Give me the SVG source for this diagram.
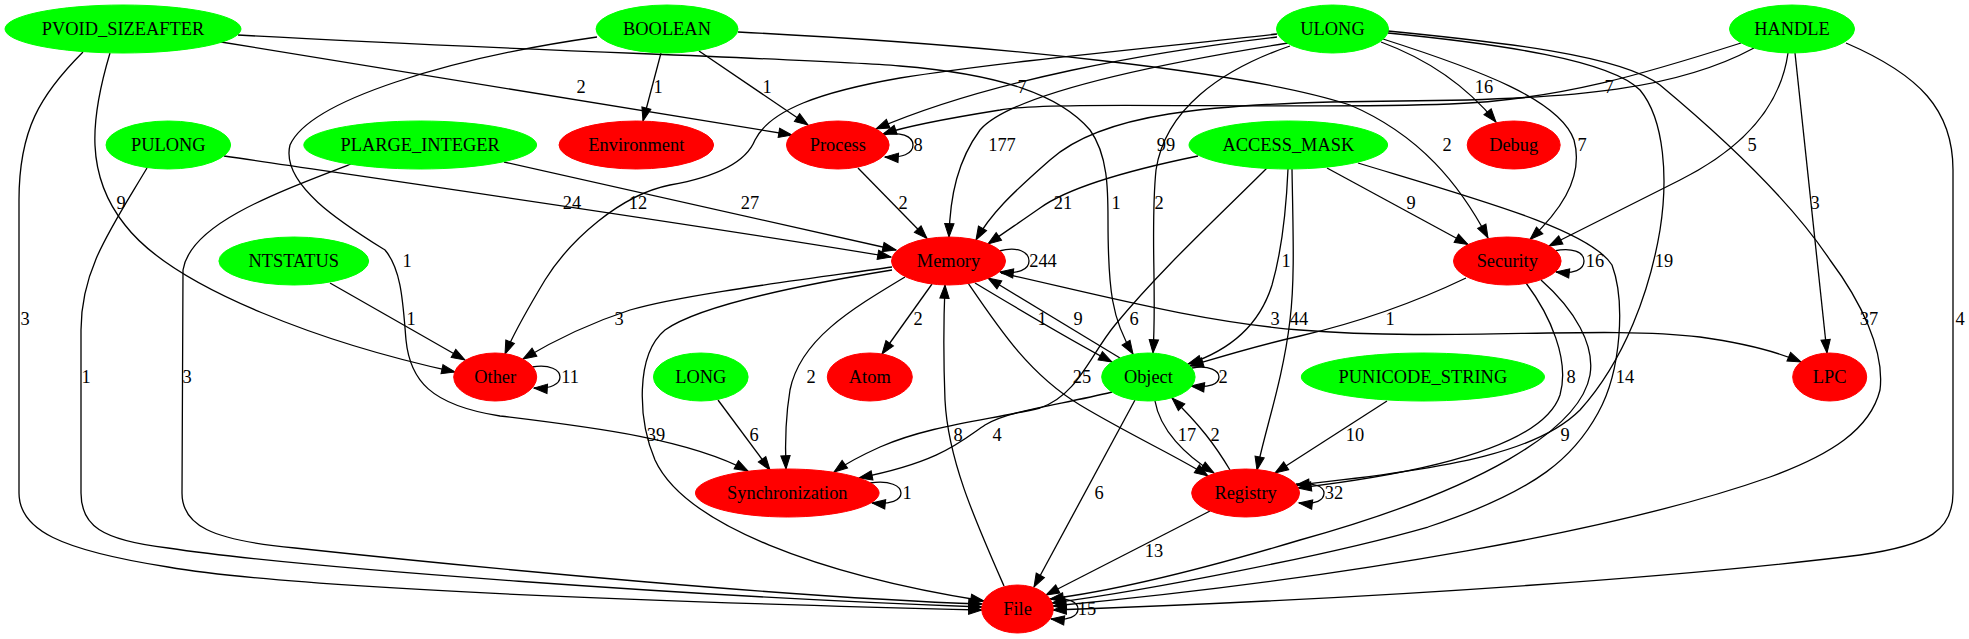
<svg xmlns="http://www.w3.org/2000/svg" width="1969" height="639" viewBox="0 0 1969 639">
<defs>
<style>
.e{fill:none;stroke:#000;stroke-width:1.3;marker-end:url(#arr)}
.t{font-family:"Liberation Serif","Times New Roman",serif;font-size:18.4px;text-anchor:middle;fill:#000}
.g{fill:#00ff00;stroke:#00ff00}
.r{fill:#ff0000;stroke:#ff0000}
marker{overflow:visible}
</style>
<marker id="arr" viewBox="0 0 14 10" refX="13.3" refY="4.67" markerWidth="14" markerHeight="10" markerUnits="userSpaceOnUse" orient="auto"><path d="M0,0 L13.3,4.67 L0,9.33 z" fill="#000" stroke="#000" stroke-width="1"/></marker>
</defs>
<rect width="1969" height="639" fill="#fff"/>
<g id="connectors">
<path class="e" d="M221,42 L792,135"/><text class="t" x="581" y="93">2</text>
<path class="e" d="M238,35 C500,50 800,58 900,66 C1000,74 1060,95 1090,130 C1108,155 1108,190 1108,220 C1108,290 1112,320 1133,354"/><text class="t" x="1116" y="209">1</text>
<path class="e" d="M110,53 C90,120 85,175 125,225 C175,290 330,345 455,372"/><text class="t" x="121" y="209">9</text>
<path class="e" d="M83,52 C40,95 19,130 19,200 L19,493 C19,530 60,550 168,567 C300,590 700,603 982,610"/><text class="t" x="25" y="325">3</text>
<path class="e" d="M147,168 C110,230 81,270 81,330 L81,493 C81,525 100,540 168,548 C300,568 700,597 982,607"/><text class="t" x="86" y="383">1</text>
<path class="e" d="M351,164 C270,195 190,225 183,270 L182,493 C182,525 210,540 295,548 C500,570 800,598 982,604"/><text class="t" x="187" y="383">3</text>
<path class="e" d="M224,156 C400,182 700,225 891,257"/><text class="t" x="572" y="209">24</text>
<path class="e" d="M504,162 L896,250"/><text class="t" x="750" y="209">27</text>
<path class="e" d="M330,283 L465,360"/><text class="t" x="411" y="325">1</text>
<path class="e" d="M661,53 L643,121"/><text class="t" x="658" y="93">1</text>
<path class="e" d="M699,51 L808,125"/><text class="t" x="767" y="93">1</text>
<path class="e" d="M597,37 C450,58 310,100 290,145 C280,185 345,225 385,250 C402,270 403,305 406,340 C410,380 430,405 500,416 C600,428 690,440 748,471"/><text class="t" x="407" y="267">1</text>
<path class="e" d="M999,251 C1018,246 1029,252 1029,261 C1029,270 1018,274 1000,272"/><text class="t" x="1043" y="267">244</text>
<path class="e" d="M883,135 C900,131 913,136 913,145 C913,154 902,158 885,157"/><text class="t" x="918" y="151">8</text>
<path class="e" d="M858,168 L927,238.5"/><text class="t" x="903" y="209">2</text>
<path class="e" d="M1277,37 C1150,52 990,80 876,129"/><text class="t" x="1022" y="93">7</text>
<path class="e" d="M1288,43 C1150,65 1010,95 980,130 C958,160 950,195 949,237"/><text class="t" x="1002" y="151">177</text>
<path class="e" d="M1277,34 C1150,48 1000,62 900,78 C820,92 770,110 755,140 C745,165 710,178 670,185 C620,195 570,240 545,280 C530,305 515,330 505,354"/><text class="t" x="638" y="209">12</text>
<path class="e" d="M1741,43 C1650,72 1560,100 1450,104 C1300,110 1050,100 1000,110 C950,118 910,125 883,134"/><text class="t" x="1609" y="93">7</text>
<path class="e" d="M1754,48 C1680,88 1580,100 1400,101 C1200,102 1100,115 1050,160 C1010,195 990,215 976,240"/><text class="t" x="1166" y="151">99</text>
<path class="e" d="M1198,156 C1120,172 1065,190 1040,208 C1020,222 1005,232 988,244"/><text class="t" x="1063" y="209">21</text>
<path class="e" d="M1290,46 C1220,70 1165,110 1156,170 C1150,230 1157,290 1153,353"/><text class="t" x="1159" y="209">2</text>
<path class="e" d="M1288,169 C1286,215 1282,250 1272,285 C1258,330 1225,352 1188,364"/><text class="t" x="1286" y="267">1</text>
<path class="e" d="M1292,169 C1293,230 1295,280 1290,320 C1283,380 1265,430 1257,470"/><text class="t" x="1299" y="325">44</text>
<path class="e" d="M1001,273 C1100,295 1200,322 1300,330 C1450,342 1600,325 1700,337 C1750,344 1780,353 1801,362"/><text class="t" x="1275" y="325">3</text>
<path class="e" d="M1327,168 L1468,244.5"/><text class="t" x="1411" y="209">9</text>
<path class="e" d="M1358,163 C1480,200 1590,230 1612,265 C1625,300 1622,370 1598,413 C1575,455 1540,490 1428,527 C1330,555 1150,590 1052,603"/><text class="t" x="1625" y="383">14</text>
<path class="e" d="M1388,33 C1500,44 1610,60 1640,90 C1665,120 1668,180 1660,230 C1650,290 1625,360 1580,410 C1540,450 1460,468 1296,485"/><text class="t" x="1664" y="267">19</text>
<path class="e" d="M1526,283 C1550,315 1570,360 1560,395 C1545,440 1450,470 1298,488"/><text class="t" x="1571" y="383">8</text>
<path class="e" d="M1541,280 C1575,310 1595,345 1590,375 C1580,430 1480,490 1300,540 C1200,570 1120,590 1050,599"/><text class="t" x="1565" y="441">9</text>
<path class="e" d="M1388,31 C1500,42 1620,55 1660,85 C1720,135 1790,200 1830,260 C1860,300 1885,350 1880,390 C1870,430 1830,455 1770,477 C1620,530 1350,578 1053,606"/><text class="t" x="1869" y="325">37</text>
<path class="e" d="M1846,43 C1920,75 1953,110 1953,170 L1953,493 C1953,530 1930,545 1860,555 C1700,575 1400,598 1053,610"/><text class="t" x="1960" y="325">4</text>
<path class="e" d="M1788,53 C1780,110 1740,150 1680,180 C1630,205 1590,225 1549,246"/><text class="t" x="1752" y="151">5</text>
<path class="e" d="M1795,53 L1827,353"/><text class="t" x="1815" y="209">3</text>
<path class="e" d="M1381,42 C1430,60 1468,88 1496,122"/><text class="t" x="1484" y="93">16</text>
<path class="e" d="M1383,39 C1480,70 1560,100 1574,140 C1585,180 1556,215 1530,239.5"/><text class="t" x="1582" y="151">7</text>
<path class="e" d="M738,32 C1000,45 1250,72 1350,105 C1420,135 1460,185 1488,238"/><text class="t" x="1447" y="151">2</text>
<path class="e" d="M1554,251 C1572,247 1584,252 1584,261 C1584,270 1574,274 1556,272"/><text class="t" x="1595" y="267">16</text>
<path class="e" d="M1466,278 C1420,300 1360,322 1300,336 C1255,346 1220,357 1190,366"/><text class="t" x="1390" y="325">1</text>
<path class="e" d="M892,267 C800,280 680,295 630,310 C590,323 555,340 523,359"/><text class="t" x="619" y="325">3</text>
<path class="e" d="M905,277 C850,310 800,340 790,390 C785,420 785,445 786,469"/><text class="t" x="811" y="383">2</text>
<path class="e" d="M932,284 L882,354"/><text class="t" x="918" y="325">2</text>
<path class="e" d="M1004,586 C975,520 948,460 945,400 C943,350 944,310 945,285"/><text class="t" x="958" y="441">8</text>
<path class="e" d="M892,270 C800,285 700,305 665,330 C635,355 638,420 655,460 C685,525 820,575 984,601"/><text class="t" x="656" y="441">39</text>
<path class="e" d="M975,283 C1020,310 1070,340 1112,362"/><text class="t" x="1042" y="325">1</text>
<path class="e" d="M1120,358 L988,278"/><text class="t" x="1078" y="325">9</text>
<path class="e" d="M968,283 C1000,330 1030,375 1080,405 C1130,435 1180,458 1208,476"/><text class="t" x="1082" y="383">25</text>
<path class="e" d="M1267,168 C1220,215 1160,270 1115,325 C1090,355 1078,395 1040,408 C990,420 930,425 880,447 C860,456 848,462 834,472"/><text class="t" x="1134" y="325">6</text>
<path class="e" d="M1112,392 C1060,405 1010,410 985,425 C960,442 940,462 859,478"/><text class="t" x="997" y="441">4</text>
<path class="e" d="M718,400 L770,470"/><text class="t" x="754" y="441">6</text>
<path class="e" d="M1192,368 C1210,365 1219,371 1219,377 C1219,384 1210,388 1191,386"/><text class="t" x="1223" y="383">2</text>
<path class="e" d="M1155,401 C1160,430 1185,455 1214,473"/><text class="t" x="1187" y="441">17</text>
<path class="e" d="M1230,470 C1215,445 1200,425 1172,398"/><text class="t" x="1215" y="441">2</text>
<path class="e" d="M1135,400 L1034,587"/><text class="t" x="1099" y="499">6</text>
<path class="e" d="M1210,511 L1046,595"/><text class="t" x="1154" y="557">13</text>
<path class="e" d="M1387,401 L1275,473"/><text class="t" x="1355" y="441">10</text>
<path class="e" d="M870,483 C890,480 901,486 901,493 C901,500 891,505 872,503"/><text class="t" x="907" y="499">1</text>
<path class="e" d="M1296,484 C1315,482 1324,487 1324,493 C1324,500 1316,505 1299,503"/><text class="t" x="1334" y="499">32</text>
<path class="e" d="M532,367 C550,364 560,370 560,377 C560,384 551,389 534,388"/><text class="t" x="570" y="383">11</text>
<path class="e" d="M1050,599 C1068,597 1078,602 1078,609 C1078,616 1069,621 1051,619"/><text class="t" x="1087" y="615">15</text>
</g>
<g id="n_PVOID_SIZEAFTER"><ellipse class="g" cx="123" cy="29" rx="118" ry="24"/><text class="t" x="123" y="35">PVOID_SIZEAFTER</text></g>
<g id="n_BOOLEAN"><ellipse class="g" cx="667" cy="29" rx="71" ry="24"/><text class="t" x="667" y="35">BOOLEAN</text></g>
<g id="n_ULONG"><ellipse class="g" cx="1332.5" cy="29" rx="56" ry="24"/><text class="t" x="1332.5" y="35">ULONG</text></g>
<g id="n_HANDLE"><ellipse class="g" cx="1792" cy="29" rx="62.5" ry="24"/><text class="t" x="1792" y="35">HANDLE</text></g>
<g id="n_PULONG"><ellipse class="g" cx="168.3" cy="145" rx="62.3" ry="24"/><text class="t" x="168.3" y="151">PULONG</text></g>
<g id="n_PLARGE_INTEGER"><ellipse class="g" cx="420.2" cy="145" rx="116.4" ry="24"/><text class="t" x="420.2" y="151">PLARGE_INTEGER</text></g>
<g id="n_Environment"><ellipse class="r" cx="636.3" cy="145" rx="77.3" ry="24"/><text class="t" x="636.3" y="151">Environment</text></g>
<g id="n_Process"><ellipse class="r" cx="837.8" cy="145" rx="51.3" ry="24"/><text class="t" x="837.8" y="151">Process</text></g>
<g id="n_ACCESS_MASK"><ellipse class="g" cx="1288.3" cy="145" rx="99.3" ry="24"/><text class="t" x="1288.3" y="151">ACCESS_MASK</text></g>
<g id="n_Debug"><ellipse class="r" cx="1513.7" cy="145" rx="46.5" ry="24"/><text class="t" x="1513.7" y="151">Debug</text></g>
<g id="n_NTSTATUS"><ellipse class="g" cx="293.8" cy="261" rx="74.9" ry="24"/><text class="t" x="293.8" y="267">NTSTATUS</text></g>
<g id="n_Memory"><ellipse class="r" cx="948.5" cy="261" rx="57" ry="24"/><text class="t" x="948.5" y="267">Memory</text></g>
<g id="n_Security"><ellipse class="r" cx="1507.3" cy="261" rx="53.8" ry="24"/><text class="t" x="1507.3" y="267">Security</text></g>
<g id="n_Other"><ellipse class="r" cx="495.2" cy="377" rx="41.5" ry="24"/><text class="t" x="495.2" y="383">Other</text></g>
<g id="n_LONG"><ellipse class="g" cx="700.8" cy="377" rx="47.3" ry="24"/><text class="t" x="700.8" y="383">LONG</text></g>
<g id="n_Atom"><ellipse class="r" cx="869.8" cy="377" rx="42.5" ry="24"/><text class="t" x="869.8" y="383">Atom</text></g>
<g id="n_Object"><ellipse class="g" cx="1148.4" cy="377" rx="46.7" ry="24"/><text class="t" x="1148.4" y="383">Object</text></g>
<g id="n_PUNICODE_STRING"><ellipse class="g" cx="1422.9" cy="377" rx="121.6" ry="24"/><text class="t" x="1422.9" y="383">PUNICODE_STRING</text></g>
<g id="n_LPC"><ellipse class="r" cx="1829.7" cy="377" rx="37" ry="24"/><text class="t" x="1829.7" y="383">LPC</text></g>
<g id="n_Synchronization"><ellipse class="r" cx="787.3" cy="493" rx="91.8" ry="24"/><text class="t" x="787.3" y="499">Synchronization</text></g>
<g id="n_Registry"><ellipse class="r" cx="1245.6" cy="493" rx="53.9" ry="24"/><text class="t" x="1245.6" y="499">Registry</text></g>
<g id="n_File"><ellipse class="r" cx="1017.5" cy="609" rx="35.8" ry="24"/><text class="t" x="1017.5" y="615">File</text></g>
</svg>
